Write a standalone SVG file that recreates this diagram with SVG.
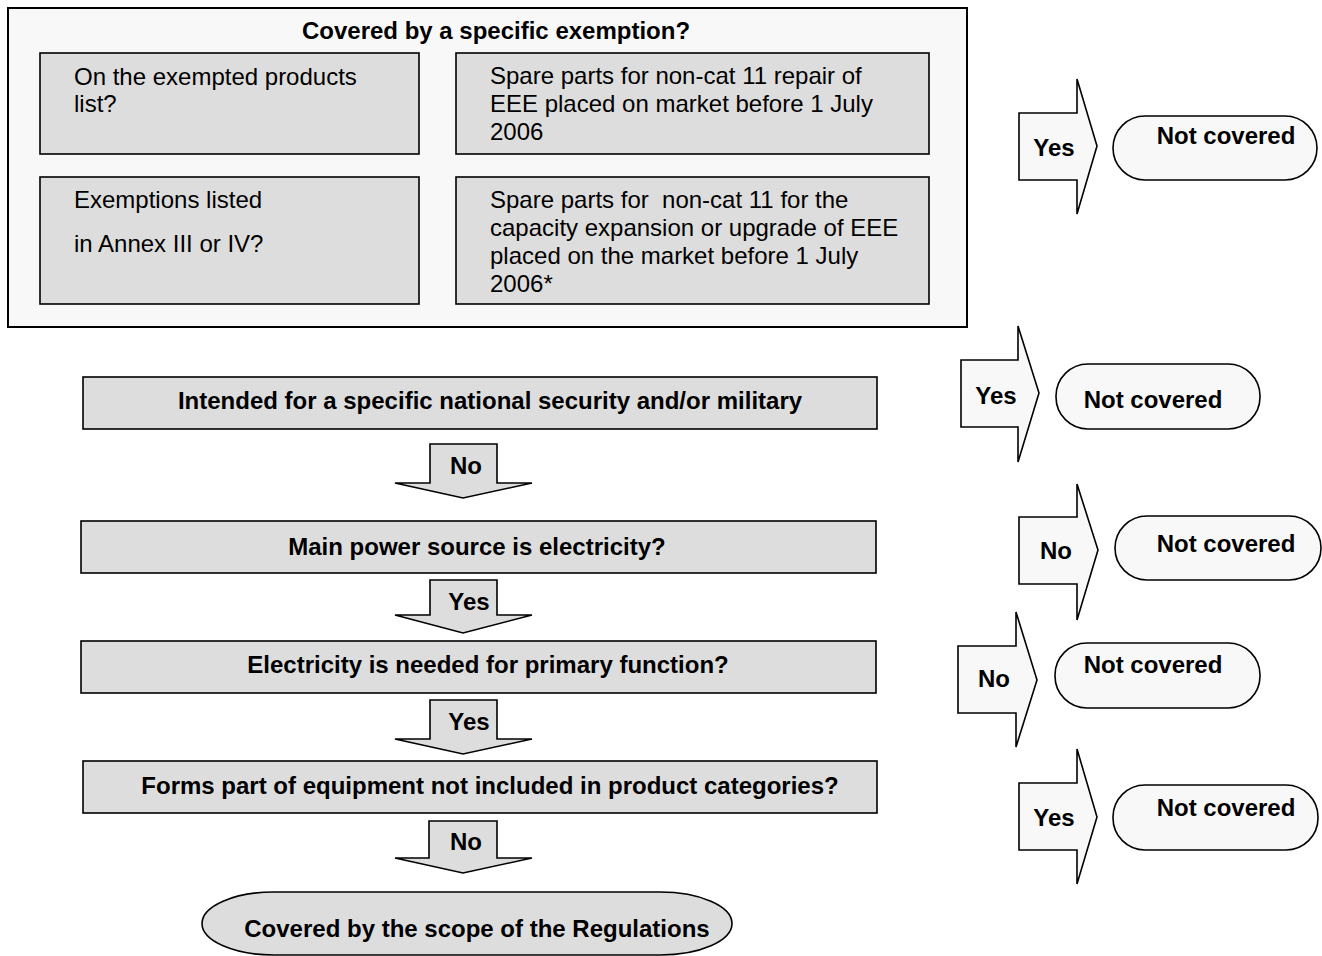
<svg xmlns="http://www.w3.org/2000/svg" width="1322" height="956" viewBox="0 0 1322 956">
<style>
text{font-family:"Liberation Sans",Arial,sans-serif;font-size:24px;fill:#000}
.b{font-weight:bold}
.m{text-anchor:middle}
.box{fill:#dddddd;stroke:#000;stroke-width:1.6}
.outer{fill:#f8f8f8;stroke:#000;stroke-width:2}
.term{fill:#f8f8f8;stroke:#000;stroke-width:1.6}
.rarr{fill:#f8f8f8;stroke:#000;stroke-width:1.6;stroke-linejoin:miter}
.darr{fill:#dddddd;stroke:#000;stroke-width:1.6;stroke-linejoin:miter}
.end{fill:#dddddd;stroke:#000;stroke-width:1.6}
</style>
<g id="exemption">
<rect class="outer" x="8" y="8" width="959" height="319"/>
<text class="b m" x="496" y="39">Covered by a specific exemption?</text>
</g>
<g id="ex-products">
<rect class="box" x="40" y="53" width="379" height="101"/>
<text x="74" y="85">On the exempted products</text>
<text x="74" y="112">list?</text>
</g>
<g id="ex-spare-repair">
<rect class="box" x="456" y="53" width="473" height="101"/>
<text x="490" y="84">Spare parts for non-cat 11 repair of</text>
<text x="490" y="112">EEE placed on market before 1 July</text>
<text x="490" y="140">2006</text>
</g>
<g id="ex-annex">
<rect class="box" x="40" y="177" width="379" height="127"/>
<text x="74" y="208">Exemptions listed</text>
<text x="74" y="252">in Annex III or IV?</text>
</g>
<g id="ex-spare-upgrade">
<rect class="box" x="456" y="177" width="473" height="127"/>
<text x="490" y="208" xml:space="preserve">Spare parts for  non-cat 11 for the</text>
<text x="490" y="236">capacity expansion or upgrade of EEE</text>
<text x="490" y="264">placed on the market before 1 July</text>
<text x="490" y="292">2006*</text>
</g>
<g id="q-military">
<rect class="box" x="83" y="377" width="794" height="52"/>
<text class="b m" x="490" y="409">Intended for a specific national security and/or military</text>
</g>
<g id="q-power">
<rect class="box" x="81" y="521" width="795" height="52"/>
<text class="b m" x="477" y="555">Main power source is electricity?</text>
</g>
<g id="q-primary">
<rect class="box" x="81" y="641" width="795" height="52"/>
<text class="b m" x="488" y="673">Electricity is needed for primary function?</text>
</g>
<g id="q-categories">
<rect class="box" x="83" y="761" width="794" height="52"/>
<text class="b m" x="490" y="794">Forms part of equipment not included in product categories?</text>
</g>
<g id="covered">
<rect class="end" x="202" y="892" width="530" height="63" rx="72" ry="31.5"/>
<text class="b m" x="477" y="937">Covered by the scope of the Regulations</text>
</g>
<g id="nc1">
<rect class="term" x="1113" y="116" width="204" height="64" rx="32"/>
<text class="b m" x="1226" y="144">Not covered</text>
</g>
<g id="nc2">
<rect class="term" x="1056" y="364" width="204" height="65" rx="32"/>
<text class="b m" x="1153" y="408">Not covered</text>
</g>
<g id="nc3">
<rect class="term" x="1115" y="516" width="206" height="64" rx="32"/>
<text class="b m" x="1226" y="552">Not covered</text>
</g>
<g id="nc4">
<rect class="term" x="1055" y="643" width="205" height="65" rx="32"/>
<text class="b m" x="1153" y="673">Not covered</text>
</g>
<g id="nc5">
<rect class="term" x="1113" y="785" width="205" height="65" rx="32"/>
<text class="b m" x="1226" y="816">Not covered</text>
</g>
<g id="connectors">
<path class="rarr" d="M1019,113 H1077 V79 L1097,146 L1077,214 V180 H1019 Z"/>
<text class="b m" x="1054" y="156">Yes</text>
<path class="rarr" d="M961,360 H1018 V326 L1039,393 L1018,462 V427 H961 Z"/>
<text class="b m" x="996" y="404">Yes</text>
<path class="rarr" d="M1019,517 H1077 V484 L1098,550 L1077,620 V584 H1019 Z"/>
<text class="b m" x="1056" y="559">No</text>
<path class="rarr" d="M958,646 H1016 V612 L1037,680 L1016,747 V713 H958 Z"/>
<text class="b m" x="994" y="687">No</text>
<path class="rarr" d="M1019,783 H1077 V749 L1097,817 L1077,884 V850 H1019 Z"/>
<text class="b m" x="1054" y="826">Yes</text>
<path class="darr" d="M430,444 H497 V483 H532 L463,498 L395,483 H430 Z"/>
<text class="b m" x="466" y="474">No</text>
<path class="darr" d="M430,580 H497 V615 H532 L463,633 L395,615 H430 Z"/>
<text class="b m" x="469" y="610">Yes</text>
<path class="darr" d="M430,700 H497 V739 H532 L463,754 L395,739 H430 Z"/>
<text class="b m" x="469" y="730">Yes</text>
<path class="darr" d="M429,821 H497 V858 H532 L463,873 L395,858 H429 Z"/>
<text class="b m" x="466" y="850">No</text>
</g>
</svg>
